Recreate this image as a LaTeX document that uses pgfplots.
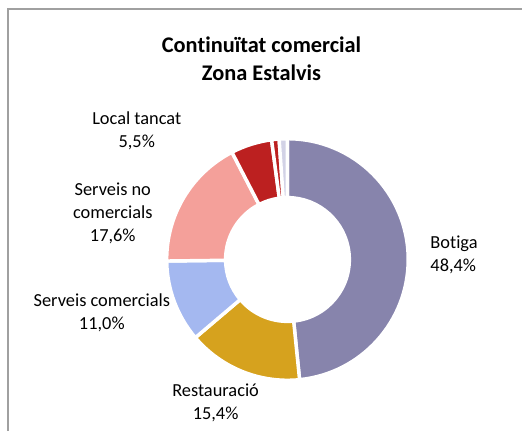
\documentclass[border=0pt]{standalone}
\usepackage{pgfplots}
\pgfplotsset{compat=1.18}
\usepackage{pgfplotstable}
\usepackage{fontspec}
\setmainfont{Carlito}[Ligatures={NoCommon}]
\definecolor{cBot}{HTML}{8784AC}
\definecolor{cRes}{HTML}{D6A21E}
\definecolor{cSC}{HTML}{A4B8F0}
\definecolor{cSNC}{HTML}{F4A09A}
\definecolor{cLT}{HTML}{BC2020}
\definecolor{cAlt}{HTML}{BC2020}
\definecolor{cLav}{HTML}{D2D2E6}
\definecolor{frame}{HTML}{A0A0A0}
\pgfplotstableread[col sep=comma]{
label,value,color
Botiga,48.4,cBot
Restauracio,15.4,cRes
ServeisComercials,11.0,cSC
ServeisNoComercials,17.6,cSNC
LocalTancat,5.5,cLT
Altres1,1.0,cAlt
Altres2,1.1,cLav
}\donut
\begin{document}
\begin{tikzpicture}
\begin{axis}[at={(0,0)}, anchor=south west, scale only axis,
  width=392.25pt, height=324pt, xmin=0, xmax=523, ymin=0, ymax=432,
  axis lines=none, ticks=none, clip=false]
\path (axis cs:0,0) rectangle (axis cs:523,432);
\draw[frame, line width=1.5pt] (axis cs:8.5,0) -- (axis cs:8.5,423) -- (axis cs:523,423);
\pgfplotstablegetrowsof{\donut}
\pgfmathtruncatemacro\N{\pgfplotsretval-1}
\def\cum{0}
\pgfplotsforeachungrouped \i in {0,...,\N}{%
  \pgfplotstablegetelem{\i}{value}\of\donut \let\v\pgfplotsretval
  \pgfplotstablegetelem{\i}{color}\of\donut \let\c\pgfplotsretval
  \pgfmathsetmacro\aA{90-3.6*\cum}%
  \pgfmathsetmacro\aB{90-3.6*(\cum+\v)}%
  \pgfmathsetmacro\xA{288+121*cos(\aA)}%
  \pgfmathsetmacro\yA{172+121*sin(\aA)}%
  \pgfmathsetmacro\xB{288+62*cos(\aB)}%
  \pgfmathsetmacro\yB{172+62*sin(\aB)}%
  \edef\temp{\noexpand\fill[\c, draw=white, line width=2.6pt]
    (axis cs:\xA,\yA) arc[start angle=\aA, end angle=\aB, radius=90.75pt]
    -- (axis cs:\xB,\yB) arc[start angle=\aB, end angle=\aA, radius=46.5pt] -- cycle;}%
  \temp
  \pgfmathsetmacro\cum{\cum+\v}%
}
\node[font=\bfseries\fontsize{16.8}{21}\selectfont, align=center] at (axis cs:262,373) {Continuïtat comercial\\Zona Estalvis};
\node[font=\fontsize{13.8}{17.25}\selectfont, align=center] at (axis cs:137,300.5) {Local tancat\\5,5\%};
\node[font=\fontsize{13.8}{17.25}\selectfont, align=center] at (axis cs:113,218) {Serveis no\\comercials\\17,6\%};
\node[font=\fontsize{13.8}{17.25}\selectfont, align=center] at (axis cs:102,118.5) {Serveis comercials\\11,0\%};
\node[font=\fontsize{13.8}{17.25}\selectfont, align=center] at (axis cs:216,28.5) {Restauració\\15,4\%};
\node[font=\fontsize{13.8}{17.25}\selectfont, align=left, anchor=west, inner xsep=0pt] at (axis cs:431,176.5) {Botiga\\48,4\%};
\end{axis}
\end{tikzpicture}
\end{document}
